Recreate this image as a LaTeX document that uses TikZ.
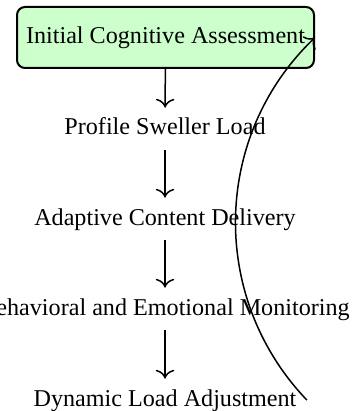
\documentclass[tikz,border=0pt]{standalone}
\usepackage{fontspec}
\setmainfont{Liberation Serif}
\usetikzlibrary{arrows.meta}
\definecolor{startgreen}{RGB}{204,255,204}
\begin{document}
\begin{tikzpicture}[x=0.5pt,y=-0.5pt,
  font=\fontsize{12.07}{14}\selectfont,
  startbox/.style={draw, rounded corners=4pt, fill=startgreen, line width=1pt,
    minimum width=148.5pt, minimum height=30.5pt, inner sep=0pt,
    text height=9pt, text depth=3pt},
  stepnode/.style={text height=9pt, text depth=3pt, inner xsep=5pt, inner ysep=4.5pt},
  flow/.style={-{To[scale=1.35]}, line width=0.75pt}]
\useasboundingbox (0,0) rectangle (354,411);
\node[startbox] (init) at (165.5,37.5) {Initial Cognitive Assessment};
\node[stepnode] (prof) at (165,129) {Profile Sweller Load};
\node[stepnode] (adap) at (165,219) {Adaptive Content Delivery};
\node[stepnode] (beha) at (165,309) {Behavioral and Emotional Monitoring};
\node[stepnode] (dyna) at (165,400) {Dynamic Load Adjustment};
\draw[flow] (init) -- (prof);
\draw[flow] (prof) -- (adap);
\draw[flow] (adap) -- (beha);
\draw[flow] (beha) -- (dyna);
\draw[flow] (dyna.east) to[bend left=45] (init.east);
\end{tikzpicture}
\end{document}
